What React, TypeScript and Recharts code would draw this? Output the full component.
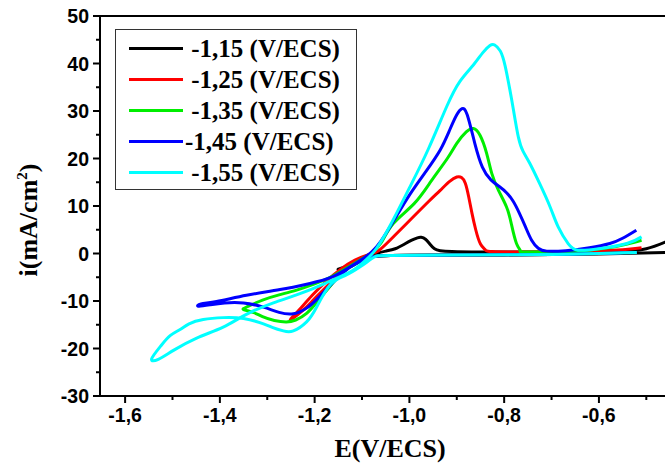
import React from "react"
import { LineChart, Line, XAxis, YAxis, ReferenceLine } from "recharts"

// cyclic voltammograms, [E (V/ECS), i (mA/cm2)] in scan order
const cv115 = [
  [-0.42, 0.3], [-0.6, -0.1], [-0.8, -0.3], [-1.0, -0.35], [-1.06, -0.45], [-1.09, -0.9],
  [-1.115, -1.9], [-1.135, -2.8], [-1.15, -3.3], [-1.145, -3.4], [-1.13, -3.0], [-1.11, -2.0],
  [-1.09, -0.8], [-1.07, 0.0], [-1.05, 0.5], [-1.03, 1.0], [-1.01, 2.0], [-0.995, 2.8],
  [-0.983, 3.3], [-0.975, 3.4], [-0.966, 3.0], [-0.957, 2.0], [-0.947, 1.0], [-0.935, 0.6],
  [-0.91, 0.4], [-0.85, 0.3], [-0.75, 0.3], [-0.65, 0.4], [-0.55, 0.6], [-0.5, 1.0],
  [-0.46, 2.4], [-0.43, 3.8], [-0.41, 5.0],
]
const cv125 = [
  [-0.52, 0.2], [-0.7, -0.2], [-0.9, -0.3], [-1.04, -0.4], [-1.08, -0.7], [-1.11, -1.8],
  [-1.14, -3.6], [-1.17, -6.5], [-1.2, -9.5], [-1.225, -12.0], [-1.245, -13.6], [-1.252, -14.0],
  [-1.247, -13.4], [-1.232, -11.8], [-1.205, -8.8], [-1.175, -5.8], [-1.145, -3.3], [-1.115, -1.4],
  [-1.085, -0.2], [-1.065, 0.6], [-1.04, 2.9], [-1.0, 6.9], [-0.96, 10.9], [-0.935, 13.3],
  [-0.915, 15.2], [-0.9, 16.1], [-0.89, 16.0], [-0.882, 14.8], [-0.875, 12.0], [-0.868, 8.5],
  [-0.86, 5.0], [-0.85, 2.0], [-0.84, 0.8], [-0.825, 0.4], [-0.75, 0.3], [-0.65, 0.4],
  [-0.55, 0.8], [-0.51, 1.2],
]
const cv135 = [
  [-0.52, 0.2], [-0.7, -0.2], [-0.9, -0.3], [-1.04, -0.4], [-1.08, -0.7], [-1.11, -2.0],
  [-1.14, -4.0], [-1.17, -7.2], [-1.195, -10.2], [-1.217, -12.6], [-1.24, -14.0], [-1.26, -14.4],
  [-1.285, -14.1], [-1.31, -13.3], [-1.33, -12.4], [-1.35, -11.8], [-1.342, -11.2], [-1.31, -9.8],
  [-1.275, -8.7], [-1.238, -7.7], [-1.2, -6.4], [-1.165, -4.9], [-1.13, -2.9], [-1.1, -1.1],
  [-1.08, 0.1], [-1.06, 2.2], [-1.034, 6.3], [-0.99, 10.5], [-0.953, 15.4], [-0.92, 20.0],
  [-0.9, 23.2], [-0.88, 25.6], [-0.865, 26.3], [-0.851, 24.9], [-0.837, 21.1], [-0.826, 16.8],
  [-0.812, 13.3], [-0.795, 9.8], [-0.785, 6.3], [-0.774, 2.1], [-0.766, 0.6], [-0.75, 0.3],
  [-0.65, 0.5], [-0.58, 1.2], [-0.54, 2.0], [-0.51, 2.8],
]
const cv145 = [
  [-0.52, 0.2], [-0.7, -0.2], [-0.9, -0.3], [-1.04, -0.4], [-1.08, -0.7], [-1.11, -2.0],
  [-1.14, -4.0], [-1.17, -7.0], [-1.195, -9.6], [-1.217, -11.5], [-1.245, -12.7], [-1.275, -12.4],
  [-1.308, -11.3], [-1.35, -10.4], [-1.39, -10.4], [-1.42, -10.8], [-1.445, -11.1], [-1.44, -10.6],
  [-1.407, -10.1], [-1.344, -8.8], [-1.273, -7.6], [-1.21, -6.3], [-1.167, -5.1], [-1.13, -3.1],
  [-1.1, -1.2], [-1.08, 0.3], [-1.06, 2.6], [-1.03, 7.4], [-1.0, 12.3], [-0.965, 17.3],
  [-0.935, 21.8], [-0.915, 26.0], [-0.9, 29.2], [-0.889, 30.5], [-0.878, 29.2], [-0.862, 23.2],
  [-0.846, 18.2], [-0.828, 15.5], [-0.809, 14.0], [-0.795, 12.8], [-0.781, 11.0], [-0.768, 8.5],
  [-0.755, 5.6], [-0.742, 2.8], [-0.728, 1.1], [-0.71, 0.5], [-0.67, 0.6], [-0.62, 1.2],
  [-0.577, 2.1], [-0.55, 3.2], [-0.521, 4.9],
]
const cv155 = [
  [-0.52, 0.2], [-0.7, -0.2], [-0.9, -0.3], [-1.04, -0.4], [-1.075, -0.8], [-1.104, -2.8],
  [-1.135, -4.6], [-1.167, -6.6], [-1.196, -11.3], [-1.217, -14.4], [-1.245, -16.3], [-1.266, -16.3],
  [-1.288, -15.6], [-1.308, -14.8], [-1.35, -13.7], [-1.393, -13.5], [-1.435, -13.9], [-1.465, -14.8],
  [-1.484, -16.0], [-1.505, -17.3], [-1.525, -19.5], [-1.544, -22.2], [-1.53, -22.3], [-1.498, -20.4],
  [-1.449, -17.8], [-1.393, -15.5], [-1.344, -12.8], [-1.287, -10.4], [-1.224, -8.2], [-1.167, -5.8],
  [-1.12, -3.6], [-1.09, -1.2], [-1.07, 1.0], [-1.04, 6.0], [-1.0, 13.8], [-0.96, 22.0],
  [-0.921, 31.0], [-0.893, 36.3], [-0.865, 39.7], [-0.845, 42.3], [-0.83, 43.8], [-0.82, 43.9],
  [-0.808, 42.6], [-0.798, 39.5], [-0.788, 34.5], [-0.78, 30.0], [-0.77, 24.5], [-0.76, 21.5],
  [-0.746, 19.0], [-0.725, 14.7], [-0.703, 9.8], [-0.686, 5.6], [-0.665, 2.1], [-0.644, 0.7],
  [-0.6, 1.0], [-0.541, 2.1], [-0.51, 3.5],
]

const seriesNames = [" -1,15 (V/ECS)", " -1,25 (V/ECS)", " -1,35 (V/ECS)", "-1,45 (V/ECS)", " -1,55 (V/ECS)"]
const seriesColors = ["#000000", "#ff0000", "#00ee00", "#0000ff", "#00ffff"]
const seriesData = [cv115, cv125, cv135, cv145, cv155]

const xMajorTicks = [-1.6, -1.4, -1.2, -1.0, -0.8, -0.6]
const xMinorTicks = [-1.5, -1.3, -1.1, -0.9, -0.7, -0.5]
const yMajorTicks = [-30, -20, -10, 0, 10, 20, 30, 40, 50]
const yMinorTicks = [-25, -15, -5, 5, 15, 25, 35, 45]

const tickFont = "'Liberation Sans', Arial, sans-serif"
const titleFont = "'Liberation Serif', 'Times New Roman', serif"

const isMajor = (list: number[], v: number) => list.some((t) => Math.abs(t - v) < 1e-6)

function XTick({ x, y, payload }: any) {
  const major = isMajor(xMajorTicks, payload.value)
  return (
    <g>
      <line x1={x} x2={x} y1={y} y2={y + (major ? 7 : 4)} stroke="#000" strokeWidth={2} />
      {major && (
        <text x={x} y={y + 26} textAnchor="middle" fontFamily={tickFont} fontWeight="bold" fontSize={19.5} fill="#000">
          {payload.value.toFixed(1).replace(".", ",")}
        </text>
      )}
    </g>
  )
}

function YTick({ x, y, payload }: any) {
  const major = isMajor(yMajorTicks, payload.value)
  return (
    <g>
      <line x1={x - (major ? 7 : 4)} x2={x} y1={y} y2={y} stroke="#000" strokeWidth={2} />
      {major && (
        <text x={x - 11} y={y} dy="0.36em" textAnchor="end" fontFamily={tickFont} fontWeight="bold" fontSize={19.5} fill="#000">
          {payload.value}
        </text>
      )}
    </g>
  )
}

export default function App() {
  return (
    <div style={{ position: "fixed", left: 0, top: 0, width: 665, height: 466, overflow: "hidden", background: "#fff" }}>
      <LineChart width={700} height={466} margin={{ top: 16, right: 30, bottom: 0, left: 0 }}>
        <XAxis
          type="number"
          dataKey="e"
          domain={[-1.653, -0.45]}
          allowDataOverflow
          ticks={[...xMajorTicks, ...xMinorTicks].sort((a, b) => a - b)}
          interval={0}
          tick={<XTick />}
          tickLine={false}
          tickSize={0}
          tickMargin={0}
          height={70}
          axisLine={{ stroke: "#000", strokeWidth: 2 }}
          label={{
            content: () => (
              <text x={390} y={457} textAnchor="middle" fontFamily={titleFont} fontWeight="bold" fontSize={26} fill="#000">
                E(V/ECS)
              </text>
            ),
          }}
        />
        <YAxis
          type="number"
          dataKey="i"
          domain={[-30, 50]}
          allowDataOverflow
          ticks={[...yMajorTicks, ...yMinorTicks].sort((a, b) => a - b)}
          interval={0}
          tick={<YTick />}
          tickLine={false}
          tickSize={0}
          tickMargin={0}
          width={100}
          axisLine={{ stroke: "#000", strokeWidth: 2 }}
          label={{
            content: () => (
              <text
                x={0}
                y={0}
                transform="translate(37 220) rotate(-90)"
                textAnchor="middle"
                fontFamily={titleFont}
                fontWeight="bold"
                fontSize={26}
                fill="#000"
              >
                <tspan>i(mA/cm</tspan>
                <tspan dy={-10} fontSize={15}>2</tspan>
                <tspan dy={10}>)</tspan>
              </text>
            ),
          }}
        />
        <ReferenceLine y={50} stroke="#000" strokeWidth={2} />
        {seriesData.map((pts, k) => (
          <Line
            key={k}
            data={pts.map(([e, i]) => ({ e, i }))}
            dataKey="i"
            type="natural"
            stroke={seriesColors[k]}
            strokeWidth={3}
            dot={false}
            isAnimationActive={false}
          />
        ))}
      </LineChart>
      <div
        style={{
          position: "absolute",
          left: 115,
          top: 29,
          width: 242,
          height: 161,
          border: "1px solid #333",
          boxSizing: "border-box",
          background: "#fff",
          paddingTop: 3,
        }}
      >
        {seriesNames.map((name, k) => (
          <div key={k} style={{ display: "flex", alignItems: "center", height: 31 }}>
            <div style={{ marginLeft: 13, width: 54, height: 3, background: seriesColors[k] }} />
            <span
              style={{
                whiteSpace: "pre",
                fontFamily: titleFont,
                fontWeight: "bold",
                fontSize: 25,
                color: "#000",
                marginLeft: 2,
                lineHeight: "31px",
              }}
            >
              {name}
            </span>
          </div>
        ))}
      </div>
    </div>
  )
}
